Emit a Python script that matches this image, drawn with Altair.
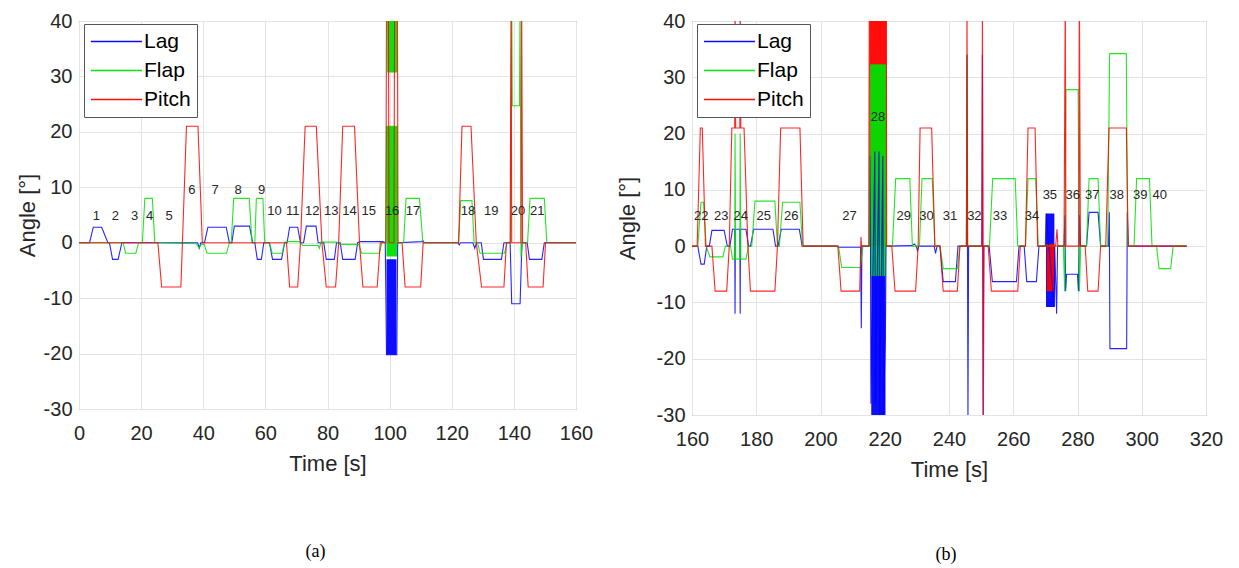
import altair as alt
import pandas as pd

SERIES = ["Lag", "Flap", "Pitch"]
COLORS = ["#0000ff", "#00e000", "#ff0000"]
TEXT = "#262626"

# ---------------- Panel (a) ----------------
A_LAG_T = [0, 3.4, 4.6, 7.3, 9.3, 9.8, 10.8, 12.6, 13.8, 38.2, 38.7, 39.2, 40.4, 41.5, 47.4, 48.4,
           49.2, 50.0, 54.9, 55.9, 56.6, 57.4, 58.7, 59.5, 61.3, 62.3, 65.2, 66.2, 67.0, 67.8, 70.4,
           71.3, 72.3, 73.2, 76.3, 77.0, 78.8, 79.6, 82.2, 82.9, 84.1, 84.9, 88.9, 89.7, 90.5, 97.8,
           98.6, 99.0, 102.3, 102.6, 110.3, 110.7, 111.2, 122.0, 122.4, 122.8, 126.8, 127.4, 128.0,
           129.5, 130.2, 136.0, 136.8, 138.8, 139.3, 142.0, 142.6, 144.3, 145.0, 149.0, 149.8, 160]
A_LAG_V = [0, 0, 2.8, 2.8, 0, 0, -3.0, -3.0, 0, 0, -1.0, 0, 0, 2.8, 2.8, 0,
           0, 3.0, 3.0, 0, 0, -3.0, -3.0, 0, 0, -3.0, -3.0, 0, 0, 2.8, 2.8,
           0, 0, 3.0, 3.0, 0, 0, -3.0, -3.0, 0, 0, -3.0, -3.0, 0, 0.2, 0.2,
           0, -20.2, -20.2, 0, 0.2, 0.4, 0, 0, -0.4, 0, 0, -1.0, 0,
           0, -3.0, -3.0, 0, 0, -11.0, -11.0, 0, 0, -3.0, -3.0, 0, 0]

A_FLAP_T = [0, 14.2, 15.0, 18.3, 19.2, 20.4, 21.2, 23.6, 24.4, 37.8, 38.7, 39.4, 40.3, 41.2, 47.5,
            48.4, 49.0, 49.8, 54.8, 55.7, 56.6, 57.1, 59.2, 59.8, 61.3, 62.2, 65.4, 66.2, 67.0, 71.0,
            72.0, 77.0, 77.4, 77.9, 83.0, 84.0, 90.0, 91.0, 96.7, 97.5, 98.7, 99.0, 102.4, 102.6,
            104.5, 105.3, 109.6, 110.7, 122.2, 122.9, 126.5, 127.2, 128.3, 129.1, 137.0, 137.8,
            138.9, 139.3, 139.5, 141.8, 142.0, 142.3, 142.8, 144.4, 145.2, 149.8, 150.6, 160]
A_FLAP_V = [0, 0, -1.9, -1.9, 0, 0, 8.0, 8.0, 0, -0.2, -1.0, -0.3, -0.3, -1.9, -1.9,
            0, 0, 8.0, 8.0, 0, 0, 8.0, 8.0, 0, 0, -1.9, -1.9, 0, 0.2, 0.2,
            -0.5, -0.5, -1.0, 0.1, 0.1, -0.3, -0.3, -1.9, -1.9, 0, 0, 21.0, 21.0, 0,
            0, 8.0, 8.0, 0, 0, 7.6, 7.6, 0, 0, -1.9, -1.9, 0,
            0, 45, 24.7, 24.7, 45, -2.6, 0, 0, 8.0, 8.0, 0, 0]

A_PITCH_T = [0, 25.4, 26.6, 32.8, 34.6, 38.3, 39.7, 66.8, 67.8, 70.4, 71.3, 72.8, 76.4, 78.2, 79.6,
             82.6, 83.6, 84.9, 88.7, 90.3, 91.4, 96.0, 97.0, 98.8, 99.0, 99.6, 99.8, 101.4, 101.6,
             102.5, 102.7, 104.0, 105.0, 110.0, 110.8, 122.2, 123.3, 126.2, 127.9, 129.6, 136.8,
             137.6, 138.8, 139.1, 139.3, 142.3, 142.5, 142.8, 143.8, 144.6, 149.4, 150.2, 160]
A_PITCH_V = [0, 0, -8, -8, 21, 21, 0, 0, -8, -8, 0, 21, 21, 0, -8,
             -8, 0, 21, 21, 0, -8, -8, 0, 0, 45, 45, 0, 0, 45,
             45, 0, 0, -8, -8, 0, 0, 21, 21, 0, -8, -8,
             0, 0, 45, 0, 0, 45, 0, 0, -8, -8, 0, 0]

# dense oscillation blocks (series, t0, t1, v0, v1)
A_BLOCK_S = ["Flap", "Flap", "Lag"]
A_BLOCK_T0 = [99.0, 99.2, 99.0]
A_BLOCK_T1 = [102.4, 102.4, 102.2]
A_BLOCK_V0 = [-2.5, 30.7, -20.2]
A_BLOCK_V1 = [21.0, 40.0, -3.0]

A_LABEL_N = [str(i) for i in range(1, 22)]
A_LABEL_T = [5.6, 11.7, 17.9, 22.7, 29.0, 36.3, 43.8, 51.2, 58.8, 62.9, 68.8, 75.1, 81.2, 87.1,
             93.3, 100.8, 107.5, 125.2, 132.7, 141.3, 147.5]
A_LABEL_V = [4.8, 4.8, 4.8, 4.8, 4.8, 9.5, 9.5, 9.5, 9.5, 5.7, 5.7, 5.7, 5.7, 5.7,
             5.7, 5.7, 5.7, 5.7, 5.7, 5.7, 5.7]

# ---------------- Panel (b) ----------------
B_LAG_T = [160, 161.8, 162.8, 163.8, 164.6, 165.4, 166.2, 170.0, 171.0, 171.8, 172.6, 173.3, 173.4,
           173.5, 174.9, 175.0, 175.1, 176.8, 177.6, 178.2, 179.2, 185.2, 186.0, 186.8, 187.8, 193.4,
           194.3, 205.0, 205.5, 212.5, 212.7, 212.9, 215.3, 215.5, 215.7, 216.9, 217.1, 218.2, 218.4,
           219.4, 219.6, 220.2, 220.4, 228.5, 229.2, 229.8, 230.2, 230.6, 235.4, 235.8, 236.3, 237.2,
           238.2, 242.0, 242.8, 245.4, 245.6, 245.9, 246.1, 250.2, 250.4, 250.6, 250.8, 252.5, 253.5,
           261.0, 261.8, 263.4, 264.2, 267.2, 268.0, 270.0, 270.2, 272.8, 272.9, 273.5, 273.8, 275.8,
           276.1, 276.3, 276.6, 280.0, 280.3, 280.6, 280.9, 282.8, 283.6, 286.4, 287.2, 289.6, 289.9,
           290.1, 295.3, 295.5, 295.8, 314.0]
B_LAG_V = [0, 0, -3.2, -3.2, 0, 0, 2.8, 2.8, 0, 0, 3.0, 3.0, -12,
           3.0, 3.0, -12, 3.0, 3.0, 0, 0, 3.0, 3.0, 0, 0, 3.0, 3.0,
           0, 0, -0.2, -0.2, -14.6, 0, 0, 16, -28, 16.8, -28, 16.8, -30,
           16, -30, -16, 0, 0.1, 0.4, 0, -0.8, 0, 0, -1.3, 0, 0,
           -6.3, -6.3, 0, 0, 34, -30, 0, 0, 34, -30, 0, 0, -6.3,
           -6.3, 0, 0, -6.3, -6.3, 0, 0, 5.8, -10.8, 0, -12, 0, 0,
           5.5, -8, -5, -5, -8, 5.5, 0, 0, 6.0, 6.0, 0, 0, 6.0,
           -18.2, -18.2, 6.0, 0, 0]

B_FLAP_T = [160, 161.8, 162.8, 163.6, 164.4, 165.6, 169.6, 170.4, 172.0, 172.6, 173.3, 173.4, 173.6,
            174.9, 175.0, 175.2, 176.8, 177.6, 178.6, 179.6, 185.8, 186.6, 187.2, 188.2, 193.6, 194.4,
            205.6, 206.6, 212.4, 213.2, 215.3, 215.6, 220.3, 220.5, 222.4, 223.4, 227.8, 228.6, 230.8,
            231.6, 234.8, 235.6, 237.2, 238.2, 242.6, 243.4, 245.4, 245.6, 245.8, 252.6, 253.6, 260.6,
            261.4, 263.8, 264.6, 267.0, 267.8, 275.6, 276.0, 276.4, 280.2, 280.6, 281.0, 282.8, 283.6,
            286.4, 287.2, 289.4, 290.0, 295.2, 295.6, 297.6, 298.4, 302.4, 303.2, 304.6, 305.4, 309.0,
            309.8, 314.0]
B_FLAP_V = [0, 0, 7.8, 7.8, 0, -1.9, -1.9, 0, 0, -2.3, -2.3, 20, -2.3,
            -2.3, 20, -2.3, -2.3, 0, 0, 8.0, 8.0, 0, 0, 7.8, 7.8, 0,
            0, -3.8, -3.8, 0, 0, 32.2, 32.2, 0, 0, 12, 12, 0, 0,
            12, 12, 0, 0, -4, -4, 0, 0, 34, 0, 0, 12, 12,
            0, 0, 12, 12, 0, 0, -8, 27.8, 27.8, -8, 0, 0, 12,
            12, 0, 0, 34.2, 34.2, 0, 0, 12, 12, 0, 0, -4, -4,
            0, 0]

B_PITCH_T = [160, 161.6, 162.6, 163.2, 164.2, 166.2, 167.2, 170.8, 171.6, 172.4, 173.3, 173.4, 173.6,
             174.9, 175.0, 175.2, 176.2, 177.4, 178.2, 185.8, 186.6, 187.6, 193.6, 194.6, 205.4, 206.4,
             212.2, 212.6, 212.8, 215.0, 215.2, 220.5, 220.6, 222.2, 223.2, 229.6, 230.4, 231.0, 234.6,
             235.6, 237.2, 238.2, 242.6, 243.4, 245.5, 245.6, 245.8, 250.3, 250.4, 250.7, 250.9, 252.2,
             253.2, 261.4, 262.2, 263.8, 264.6, 266.8, 267.6, 270.2, 273.2, 273.6, 273.9, 275.8, 276.2,
             276.4, 280.4, 280.6, 280.9, 282.4, 283.2, 286.4, 287.2, 288.8, 289.8, 295.2, 295.8, 314.0]
B_PITCH_V = [0, 0, 21, 21, 0, 0, -8, -8, 0, 21, 21, 45, 21,
             21, 45, 21, 21, 0, -8, -8, 0, 21, 21, 0, 0, -8,
             -8, 1.6, 0, 0, 45, 45, 0, 0, -8, -8, 0, 21, 21,
             0, 0, -8, -8, 0, 0, 45, 0, 0, 45, -30, 0, 0,
             -8, -8, 0, 0, 21, 21, 0, 0, 0, 3, 0, 0, 45,
             0, 0, 45, 0, 0, -8, -8, 0, 0, 21, 21, 0, 0]

B_BLOCK_S = ["Pitch", "Flap", "Lag", "Lag", "Pitch"]
B_BLOCK_T0 = [215.2, 215.6, 215.8, 270.2, 270.4]
B_BLOCK_T1 = [220.5, 220.3, 220.2, 272.8, 272.9]
B_BLOCK_V0 = [0.0, -5.3, -30.0, -10.8, -8.0]
B_BLOCK_V1 = [40.0, 32.2, -5.3, 5.8, 0.4]

B_LABEL_N = [str(i) for i in range(22, 41)]
B_LABEL_T = [162.9, 169.1, 175.2, 182.3, 190.9, 209.0, 217.9, 225.9, 233.0, 240.3, 247.9, 255.9,
             265.8, 271.4, 278.5, 284.6, 292.2, 299.5, 305.6]
B_LABEL_V = [5.4, 5.4, 5.4, 5.4, 5.4, 5.4, 22.9, 5.4, 5.4, 5.4, 5.4, 5.4,
             5.4, 9.0, 9.0, 9.0, 9.0, 9.0, 9.0]

Y_TICKS = [-30, -20, -10, 0, 10, 20, 30, 40]
A_X_TICKS = [0, 20, 40, 60, 80, 100, 120, 140, 160]
B_X_TICKS = [160, 180, 200, 220, 240, 260, 280, 300, 320]


def lines_df(pairs):
    rows = []
    for name, ts, vs in pairs:
        for i, (t, v) in enumerate(zip(ts, vs)):
            rows.append({"series": name, "t": t, "v": v, "i": i})
    return pd.DataFrame(rows)


LEGEND = alt.Legend(title=None, orient="none", legendX=5, legendY=3, symbolType="stroke",
                    symbolSize=2600, symbolStrokeWidth=1.5, labelFontSize=21,
                    labelFont="Liberation Sans", labelColor="black", fillColor="white",
                    strokeColor="#555555", padding=6, labelOffset=1, rowPadding=6,
                    clipHeight=23)


def panel(lines, bs, bt0, bt1, bv0, bv1, ln, lt, lv, xdom, xticks, w, h, caption, cdx, coff, ytp):
    color_scale = alt.Scale(domain=SERIES, range=COLORS)
    xs = alt.Scale(domain=xdom, nice=False, zero=False, padding=0)
    ys = alt.Scale(domain=[-30, 40], nice=False, zero=False, padding=0)
    xax = alt.Axis(values=xticks, title="Time [s]", labelExpr="datum.value + ''", labelFlush=False)
    yax = alt.Axis(values=Y_TICKS, title="Angle [°]", labelExpr="datum.value + ''",
                   titlePadding=ytp, labelFlush=False)
    blocks = pd.DataFrame({"series": bs, "t0": bt0, "t1": bt1, "v0": bv0, "v1": bv1})
    labels = pd.DataFrame({"n": ln, "t": lt, "v": lv})

    rect = alt.Chart(blocks).mark_rect(clip=True, opacity=0.95).encode(
        x=alt.X("t0:Q", scale=xs, axis=xax), x2="t1:Q",
        y=alt.Y("v0:Q", scale=ys, axis=yax), y2="v1:Q",
        color=alt.Color("series:N", scale=color_scale, legend=LEGEND),
    )
    layers = [rect]
    df = lines_df(lines)
    for name in SERIES:
        layers.append(
            alt.Chart(df[df.series == name]).mark_line(clip=True, strokeWidth=1.1, opacity=0.85).encode(
                x=alt.X("t:Q", scale=xs, axis=xax),
                y=alt.Y("v:Q", scale=ys, axis=yax),
                color=alt.Color("series:N", scale=color_scale, legend=LEGEND),
                order="i:Q",
            )
        )
    text = alt.Chart(labels).mark_text(fontSize=13, font="Liberation Sans", color=TEXT).encode(
        x=alt.X("t:Q", scale=xs, axis=xax), y=alt.Y("v:Q", scale=ys, axis=yax), text="n:N"
    )
    layers.append(text)
    return alt.layer(*layers).properties(
        width=w, height=h,
        title=alt.TitleParams(caption, orient="bottom", font="Liberation Serif", fontSize=18,
                              fontWeight="normal", color="black", offset=coff, dx=cdx),
    )


pa = panel([("Lag", A_LAG_T, A_LAG_V), ("Flap", A_FLAP_T, A_FLAP_V), ("Pitch", A_PITCH_T, A_PITCH_V)],
           A_BLOCK_S, A_BLOCK_T0, A_BLOCK_T1, A_BLOCK_V0, A_BLOCK_V1,
           A_LABEL_N, A_LABEL_T, A_LABEL_V, [0, 160], A_X_TICKS, 497, 388, "(a)", -12, 69, 4)
pb = panel([("Lag", B_LAG_T, B_LAG_V), ("Flap", B_FLAP_T, B_FLAP_V), ("Pitch", B_PITCH_T, B_PITCH_V)],
           B_BLOCK_S, B_BLOCK_T0, B_BLOCK_T1, B_BLOCK_V0, B_BLOCK_V1,
           B_LABEL_N, B_LABEL_T, B_LABEL_V, [160, 320], B_X_TICKS, 514, 394, "(b)", -3, 66, 17)

chart = alt.hconcat(pa, pb, spacing=21).resolve_legend(color="independent").resolve_scale(
    x="independent"
).properties(
    padding={"left": 7, "top": 2, "right": 0, "bottom": 0},
    background="white",
).configure_axis(
    labelFontSize=20, titleFontSize=22, titleFontWeight="normal", labelFont="Liberation Sans",
    titleFont="Liberation Sans", labelColor=TEXT, titleColor=TEXT, gridColor="#e3e3e3",
    domain=False, ticks=False, labelPadding=7,
).configure_axisX(labelPadding=14, titlePadding=10).configure_view(
    stroke="#707070", strokeWidth=1
)

chart.save("out.html", embed_options={"renderer": "svg", "actions": False})
